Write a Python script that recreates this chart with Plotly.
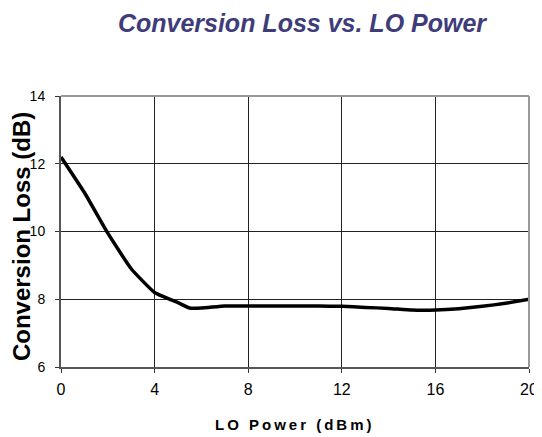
import plotly.graph_objects as go

lo_power = [0, 1, 2, 3, 4, 5, 5.5, 6, 7, 8, 9, 10, 11, 12, 13, 14, 15, 16, 17, 18, 19, 20]
conv_loss = [12.2, 11.15, 9.95, 8.9, 8.2, 7.9, 7.74, 7.74, 7.8, 7.8, 7.8, 7.8, 7.8, 7.79, 7.76, 7.73, 7.68, 7.68, 7.72, 7.79, 7.88, 8.0]
x_ticks = [0, 4, 8, 12, 16, 20]
y_ticks = [6, 8, 10, 12, 14]

fig = go.Figure()
fig.add_trace(go.Scatter(x=lo_power, y=conv_loss, mode="lines",
                         line=dict(color="black", width=3.5, shape="spline", smoothing=0.4),
                         showlegend=False, hoverinfo="skip"))

font_family = "Liberation Sans, Arial, sans-serif"
xlabel = "\u2009".join("LO Power (dBm)")
fig.update_layout(
    width=542, height=437,
    margin=dict(l=53, r=21, t=88, b=78, autoexpand=False),
    paper_bgcolor="white", plot_bgcolor="white",
    font=dict(family=font_family, size=12, color="black"),
    title=dict(text="<b><i>Conversion Loss vs. LO Power</i></b>", x=0.5424, xanchor="center",
               y=0.9657, yanchor="middle",
               font=dict(family=font_family, size=25, color="#3f3c7a")),
    xaxis=dict(range=[0, 20], tickvals=x_ticks, ticks="outside", ticklen=4, tickcolor="#333",
               ticklabelstandoff=3,
               showgrid=True, gridcolor="#222", gridwidth=1,
               showline=True, linecolor="#555", linewidth=2, mirror=False,
               zeroline=False, tickfont=dict(size=16), automargin=False),
    yaxis=dict(range=[6, 14], tickvals=y_ticks, ticks="outside", ticklen=4, tickcolor="#333",
               ticklabelstandoff=7,
               showgrid=True, gridcolor="#222", gridwidth=1,
               showline=True, linecolor="#555", linewidth=2,
               zeroline=False, tickfont=dict(size=14), automargin=False),
    shapes=[
        dict(type="line", xref="paper", yref="paper", x0=0, x1=1, y0=1, y1=1,
             line=dict(color="#999", width=2)),
        dict(type="line", xref="paper", yref="paper", x0=1, x1=1, y0=0, y1=1,
             line=dict(color="#999", width=2)),
    ],
    annotations=[
        dict(text="<b>Conversion Loss (dB)</b>", xref="paper", yref="paper",
             x=-0.083, y=0.48, xanchor="center", yanchor="middle", textangle=-90,
             showarrow=False, font=dict(family=font_family, size=24, color="black")),
        dict(text="<b>" + xlabel + "</b>", xref="paper", yref="paper",
             x=0.496, y=-0.214, xanchor="center", yanchor="middle",
             showarrow=False, font=dict(family=font_family, size=15, color="black")),
    ],
)

fig.write_html("out.html")
